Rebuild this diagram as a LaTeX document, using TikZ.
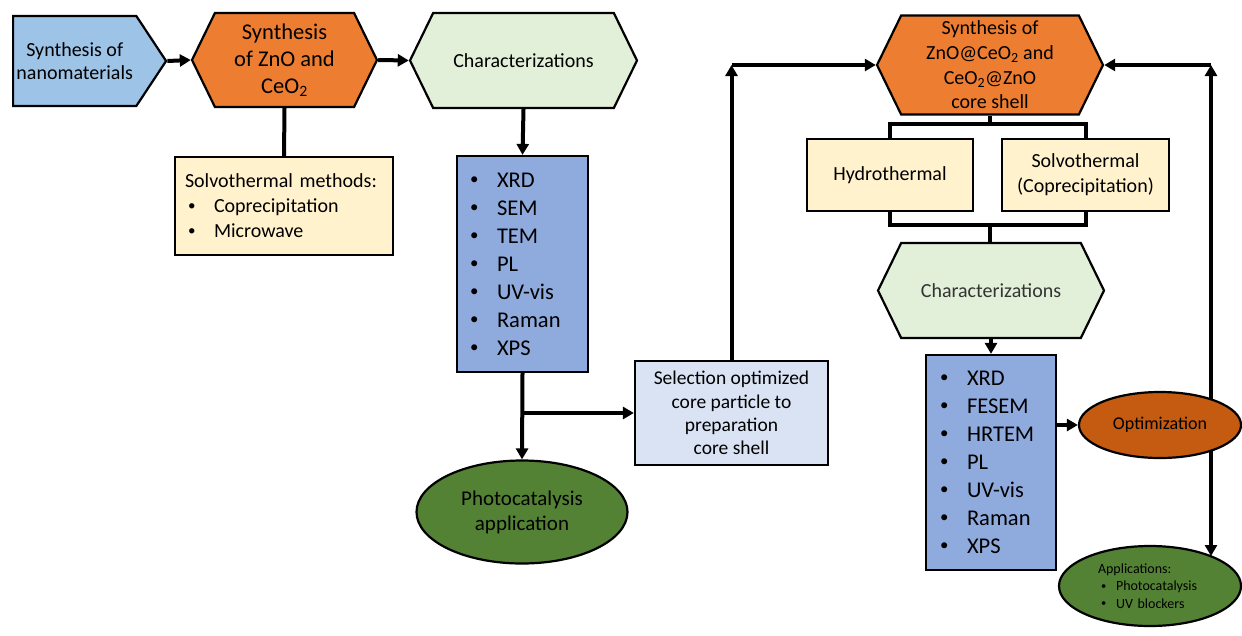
\documentclass[tikz,border=0pt]{standalone}
\usepackage{fontspec}
\setmainfont{Carlito}
\usetikzlibrary{shapes.symbols,shapes.geometric,arrows.meta,positioning}
\definecolor{nanoblue}{HTML}{9DC3E6}
\definecolor{synorange}{HTML}{ED7D31}
\definecolor{optorange}{HTML}{C55A11}
\definecolor{creambox}{HTML}{FFF2CC}
\definecolor{chargreen}{HTML}{E2F0D9}
\definecolor{listblue}{HTML}{8FAADC}
\definecolor{selblue}{HTML}{DAE3F3}
\definecolor{appgreen}{HTML}{548235}
\newcommand{\fs}[2]{\fontsize{#1}{#2}\selectfont}
\newcommand{\itm}[2][30pt]{\makebox[#1][l]{\hspace{3pt}\raisebox{0.12em}{\scalebox{0.75}{\textbullet}}}#2}

\begin{document}
\begin{tikzpicture}[x=1pt,y=-1pt,
    hexbox/.style={signal, signal to=west and east, signal pointer angle=128, draw, line width=2.2pt, inner sep=0pt, align=center},
    pentbox/.style={signal, signal to=east, signal pointer angle=113, draw, line width=2.2pt, inner sep=0pt, align=center},
    plainbox/.style={rectangle, draw, line width=2.2pt, align=center},
    listbox/.style={rectangle, draw, line width=2.2pt, inner xsep=10pt, align=left},
    oval/.style={ellipse, draw, line width=2.2pt, inner sep=0pt, align=center},
    flow/.style={line width=4pt, -{Triangle[length=11pt,width=12pt]}},
    link/.style={line width=4pt}]
    \useasboundingbox (0,0) rectangle (1242,635);

    % left branch
    \node[pentbox, fill=nanoblue, minimum width=153, minimum height=90, font=\fs{20}{23}, anchor=west] (nano) at (12,61) {Synthesis of\\nanomaterials};
    \node[hexbox, fill=synorange, minimum width=185, minimum height=94, font=\fs{22.5}{27}] (synthA) at (284.5,60) {Synthesis\\of ZnO and\\CeO\textsubscript{2}};
    \node[listbox, fill=creambox, minimum width=218, minimum height=98, text width=198, font=\fs{20}{25}] (solvA) at (284,206) {Solvothermal methods:\\\itm[29pt]{Coprecipitation}\\\itm[29pt]{Microwave}};
    \node[hexbox, fill=chargreen, minimum width=227, minimum height=95, font=\fs{20}{24}] (charA) at (523.5,60.5) {Characterizations};
    \node[listbox, fill=listblue, minimum width=131, minimum height=216, text width=111, font=\fs{22.5}{28}] (techA) at (522.5,264) {\itm{XRD}\\\itm{SEM}\\\itm{TEM}\\\itm{PL}\\\itm{UV-vis}\\\itm{Raman}\\\itm{XPS}};
    \node[oval, fill=appgreen, minimum width=211, minimum height=103, font=\fs{21}{25}] (photo) at (522,512) {Photocatalysis\\application};
    \node[plainbox, fill=selblue, minimum width=193, minimum height=104, font=\fs{19.5}{23.3}] (select) at (731.5,413) {Selection optimized\\core particle to\\preparation\\core shell};

    \draw[flow] (nano.east) -- (synthA.west);
    \draw[link] (synthA.south) -- (solvA.north);
    \draw[flow] (synthA.east) -- (charA.west);
    \draw[flow] (charA.south) -- (techA.north);
    \draw[flow] (techA.south) -- (photo.north);
    \draw[flow] (techA.south |- select.west) -- (select.west);
    \coordinate (cornerL) at (select.north |- 0,65);
    \draw[flow] (select.north) -- (cornerL);

    % right branch
    \node[hexbox, fill=synorange, minimum width=226, minimum height=99, font=\fs{20}{24.6}] (synthB) at (990,65) {Synthesis of\\ZnO@CeO\textsubscript{2} and\\CeO\textsubscript{2}@ZnO\\core shell};
    \node[plainbox, fill=creambox, minimum width=166, minimum height=72, font=\fs{20}{25}] (hydro) at (890,175) {Hydrothermal};
    \node[plainbox, fill=creambox, minimum width=167, minimum height=72, font=\fs{20}{25}] (solvB) at (1085.5,175) {Solvothermal\\(Coprecipitation)};
    \node[hexbox, fill=chargreen, minimum width=226, minimum height=95, font=\fs{20}{24}, text=black!80] (charB) at (991,290.5) {Characterizations};
    \node[listbox, fill=listblue, minimum width=130, minimum height=215, inner xsep=11pt, text width=108, font=\fs{22.5}{28}] (techB) at (991,462.5) {\itm{XRD}\\\itm{FESEM}\\\itm{HRTEM}\\\itm{PL}\\\itm{UV-vis}\\\itm{Raman}\\\itm{XPS}};
    \node[oval, fill=appgreen, minimum width=182, minimum height=80, text width=104, align=left, font=\fs{14}{17.5}] (apps) at (1150,586) {Applications:\\\itm[18pt]{Photocatalysis}\\\itm[18pt]{UV blockers}};

    \draw[flow] (cornerL) -- (synthB.west);
    \coordinate (forkT) at (synthB.south |- 0,124);
    \coordinate (forkB) at (synthB.south |- 0,225);
    \draw[link] (synthB.south) -- (forkT);
    \draw[link] (hydro.north) |- (forkT) -| (solvB.north);
    \draw[link] (hydro.south) |- (forkB) -| (solvB.south);
    \draw[link] (forkB) -- (forkB |- charB.north);
    \draw[flow] (charB.south) -- (techB.north);

    % loop through the optimization step
    \coordinate (optR) at (1211,425);
    \coordinate (cornerR) at (optR |- synthB.east);
    \coordinate (appsTop) at (1211,556);
    \draw[flow] (optR) -- (cornerR);
    \draw[flow] (cornerR) -- (synthB.east);
    \draw[flow] (optR) -- (appsTop);
    \node[oval, fill=optorange, minimum width=162, minimum height=66, font=\fs{18}{22}] (optim) at (1160,425) {Optimization};
    \draw[flow] (techB.east |- optim.west) -- (optim.west);
\end{tikzpicture}
\end{document}
